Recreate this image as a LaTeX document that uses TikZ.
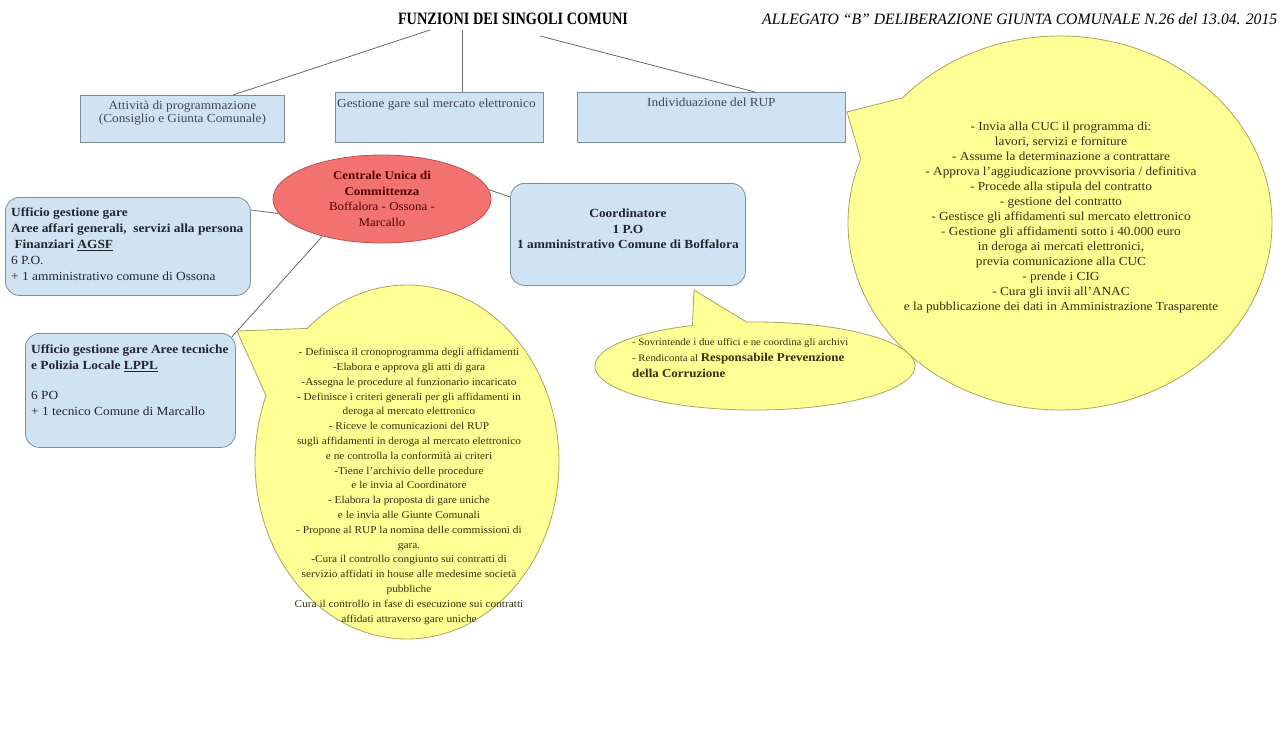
\documentclass[tikz,border=0pt]{standalone}
\usepackage{fontspec}
\setmainfont{Liberation Serif}[FakeStretch=1.08]
\usetikzlibrary{calc,shapes.geometric}
\definecolor{boxfill}{RGB}{207,227,243}
\definecolor{boxline}{RGB}{125,142,160}
\definecolor{redfill}{RGB}{242,114,114}
\definecolor{redline}{RGB}{190,80,80}
\definecolor{redtext}{RGB}{85,0,0}
\definecolor{yelfill}{RGB}{255,255,150}
\definecolor{yelline}{RGB}{172,164,96}
\definecolor{yeltext}{RGB}{55,48,10}
\definecolor{linegray}{RGB}{105,105,105}
\definecolor{boxtext}{RGB}{35,38,48}
\tikzset{
  conn/.style={draw=linegray, line width=0.8pt},
  topbox/.style={rectangle, draw=boxline, fill=boxfill, line width=0.8pt, inner sep=0pt},
  rbox/.style={rectangle, rounded corners=14pt, draw=boxline, fill=boxfill, line width=0.8pt, inner sep=0pt},
  callout/.style={draw=yelline, fill=yelfill, line width=0.8pt},
  boxtxt/.style={inner sep=0pt, text=boxtext, font=\fontsize{12.4}{16}\selectfont},
  toptxt/.style={inner sep=0pt, text=boxtext!85, font=\fontsize{12.3}{13}\selectfont},
  ytxt/.style={inner sep=0pt, text=yeltext, align=center}
}
\begin{document}
\begin{tikzpicture}[x=1pt,y=-1pt]
\useasboundingbox (0,0) rectangle (1284,731);
\fill[white] (0,0) rectangle (1284,731);

% headers
\node[anchor=base, inner sep=0pt] (title) at (513,24)
  {\resizebox{230pt}{11.5pt}{\bfseries FUNZIONI DEI SINGOLI COMUNI}};
\node[anchor=base west, inner sep=0pt] (allegato) at (762,24)
  {\resizebox{515pt}{11pt}{\itshape ALLEGATO “B” DELIBERAZIONE GIUNTA COMUNALE N.26 del 13.04. 2015}};

% top boxes
\node[topbox, anchor=north west, minimum width=204pt, minimum height=47pt] (prog) at (80,95) {};
\node[topbox, anchor=north west, minimum width=208pt, minimum height=50pt] (gest) at (335,92) {};
\node[topbox, anchor=north west, minimum width=268pt, minimum height=50pt] (rup) at (577,92) {};
\node[toptxt, anchor=north, align=center] (progt) at ($(prog.north)+(0,6)$)
  {Attività di programmazione\\(Consiglio e Giunta Comunale)};
\node[toptxt, anchor=north west] (gestt) at ($(gest.north west)+(2,7)$)
  {Gestione gare sul mercato elettronico};
\node[toptxt, anchor=north] (rupt) at ($(rup.north)+(0,6)$)
  {Individuazione del RUP};

% title connectors
\coordinate (t1) at (430,30);
\coordinate (t2) at (462,30);
\coordinate (t3) at (540,36);
\draw[conn] (t1) -- ($(prog.north east)+(-52,0)$);
\draw[conn] (t2) -- (t2 |- gest.north);
\draw[conn] (t3) -- ($(rup.north west)+(178,0)$);

% central ellipse
\node[ellipse, draw=redline, fill=redfill, line width=0.8pt, minimum width=218pt, minimum height=88pt,
      inner sep=0pt, align=center, text=redtext, font=\fontsize{12}{15.5}\selectfont] (cuc) at (382,199)
  {\textbf{Centrale Unica di}\\\textbf{Committenza}\\Boffalora - Ossona -\\Marcallo};

% left boxes and coordinator
\node[rbox, anchor=north west, minimum width=245pt, minimum height=98pt] (uff1) at (5,197) {};
\node[rbox, anchor=north west, minimum width=210pt, minimum height=114pt] (uff2) at (25,333) {};
\node[rbox, anchor=north west, minimum width=235pt, minimum height=102pt] (coord) at (510,183) {};

\draw[conn] (cuc.188) -- ($(uff1.north east)+(0,13)$);
\draw[conn] (cuc.212) -- ($(uff2.north east)+(-4,4)$);
\draw[conn] (cuc.5) -- ($(coord.north west)+(0,14)$);

\node[boxtxt, anchor=north west, align=left] (uff1t) at ($(uff1.north west)+(6,11)$)
  {\textbf{Ufficio gestione gare}\\
   \textbf{Aree affari generali,\ \ servizi alla persona}\\
   \textbf{\ Finanziari \underline{AGSF}}\\
   6 P.O.\\
   + 1 amministrativo comune di Ossona};
\node[boxtxt, anchor=north west, align=left] (uff2t) at ($(uff2.north west)+(6,12)$)
  {\textbf{Ufficio gestione gare Aree tecniche}\\
   \textbf{e Polizia Locale \underline{LPPL}}\\[14pt]
   6 PO\\
   + 1 tecnico Comune di Marcallo};
\node[boxtxt, anchor=north, align=center, font=\bfseries\fontsize{12.4}{15.5}\selectfont] (coordt)
  at ($(coord.north)+(0,26)$)
  {Coordinatore\\1 P.O\\1 amministrativo Comune di Boffalora};

% callouts
\coordinate (tipmid) at (237,331);
\coordinate (tipsmall) at (694,290);
\coordinate (tipright) at (847,112);
\path[callout] plot[domain=158:491, samples=240] ({407+152*cos(\x)},{462-177*sin(\x)}) -- (tipmid) -- cycle;
\path[callout] plot[domain=113:453, samples=240] ({755+160*cos(\x)},{366-44*sin(\x)}) -- (tipsmall) -- cycle;
\path[callout] plot[domain=160:498, samples=240] ({1060+212*cos(\x)},{223-187*sin(\x)}) -- (tipright) -- cycle;

\node[ytxt, anchor=north, font=\fontsize{10.5}{14.8}\selectfont] (midt) at (409,348)
  {- Definisca il cronoprogramma degli affidamenti\\
   -Elabora e approva gli atti di gara\\
   -Assegna le procedure al funzionario incaricato\\
   - Definisce i criteri generali per gli affidamenti in\\
   deroga al mercato elettronico\\
   - Riceve le comunicazioni del RUP\\
   sugli affidamenti in deroga al mercato elettronico\\
   e ne controlla la conformità ai criteri\\
   -Tiene l’archivio delle procedure\\
   e le invia al Coordinatore\\
   - Elabora la proposta di gare uniche\\
   e le invia alle Giunte Comunali\\
   - Propone al RUP la nomina delle commissioni di\\
   gara.\\
   -Cura il controllo congiunto sui contratti di\\
   servizio affidati in house alle medesime società\\
   pubbliche\\
   Cura il controllo in fase di esecuzione sui contratti\\
   affidati attraverso gare uniche};

\node[ytxt, anchor=north, font=\fontsize{12.3}{15}\selectfont] (rightt) at (1061,122)
  {- Invia alla CUC il programma di:\\
   lavori, servizi e forniture\\
   - Assume la determinazione a contrattare\\
   - Approva l’aggiudicazione provvisoria / definitiva\\
   - Procede alla stipula del contratto\\
   - gestione del contratto\\
   - Gestisce gli affidamenti sul mercato elettronico\\
   - Gestione gli affidamenti sotto i 40.000 euro\\
   in deroga ai mercati elettronici,\\
   previa comunicazione alla CUC\\
   - prende i CIG\\
   - Cura gli invii all’ANAC\\
   e la pubblicazione dei dati in Amministrazione Trasparente};

\node[ytxt, anchor=north west, align=left, font=\fontsize{10}{16}\selectfont] (smallt) at (632,338)
  {- Sovrintende i due uffici e ne coordina gli archivi\\
   - Rendiconta al {\fontsize{12}{16}\selectfont\bfseries Responsabile Prevenzione}\\
   {\fontsize{12}{16}\selectfont\bfseries della Corruzione}};
\end{tikzpicture}
\end{document}
